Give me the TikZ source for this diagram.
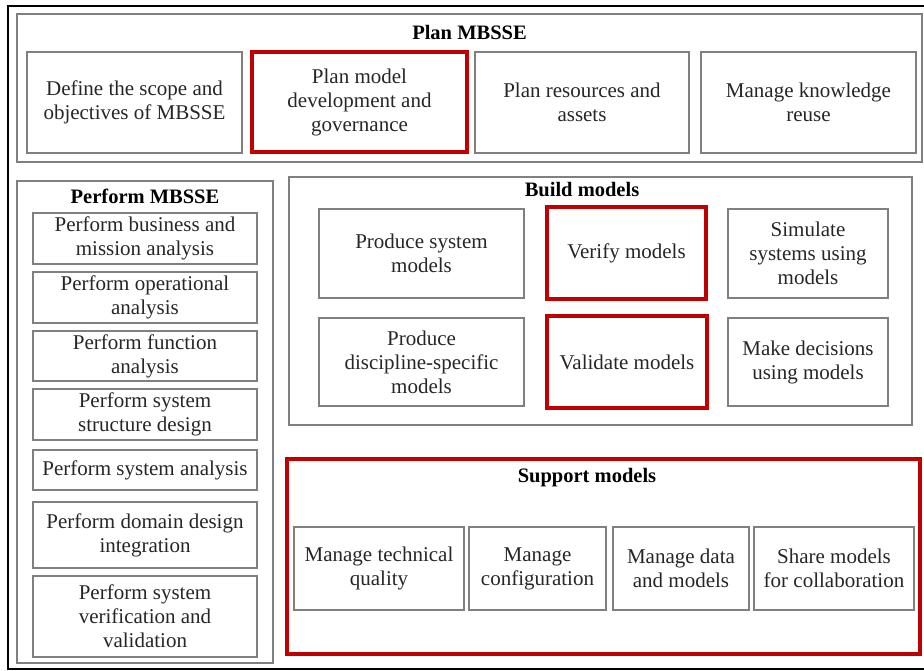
\documentclass[tikz,border=0pt]{standalone}
\usepackage{fontspec}
\setmainfont{Liberation Serif}
\usetikzlibrary{positioning}
\definecolor{boxred}{HTML}{C00000}
\tikzset{
    stepbox/.style={draw=black!50, line width=1.2pt, align=center, inner sep=0pt,
        text=black!85, font=\fontsize{21}{24}\selectfont},
    redbox/.style={stepbox, draw=boxred, line width=3.5pt},
    groupbox/.style={draw=black!50, line width=1.2pt, inner sep=0pt},
    grouptitle/.style={inner sep=0pt, font=\fontsize{20.5}{24}\selectfont\bfseries}
}
\begin{document}
\begin{tikzpicture}[x=1pt,y=-1pt]
    \useasboundingbox (0,0) rectangle (924,671);
    % outer frame
    \draw[line width=2.5pt] (8,6) rectangle (934,669);
    % Plan MBSSE
    \node[groupbox, minimum width=905pt, minimum height=148pt] (plan) at (469.5,88) {};
    \node[grouptitle] (plantitle) at ([yshift=-19pt]plan.north) {Plan MBSSE};
    \node[stepbox, minimum width=215pt, minimum height=101pt] (scope) at (134.5,102.5) {Define the scope and\\objectives of MBSSE};
    \node[redbox, minimum width=215pt, minimum height=100pt] (governance) at (359.5,102) {Plan model\\development and\\governance};
    \node[stepbox, minimum width=214pt, minimum height=101pt] (resources) at (582,102.5) {Plan resources and\\assets};
    \node[stepbox, minimum width=215pt, minimum height=101pt] (reuse) at (808.5,102.5) {Manage knowledge\\reuse};
    % Perform MBSSE
    \node[groupbox, minimum width=256pt, minimum height=482pt] (perform) at (145,422) {};
    \node[grouptitle] (performtitle) at ([yshift=-16pt]perform.north) {Perform MBSSE};
    \node[stepbox, minimum width=224pt, minimum height=51pt] (mission) at (145,238.5) {Perform business and\\mission analysis};
    \node[stepbox, minimum width=224pt, minimum height=51pt] (operational) at (145,297.5) {Perform operational\\analysis};
    \node[stepbox, minimum width=224pt, minimum height=50pt] (function) at (145,356) {Perform function\\analysis};
    \node[stepbox, minimum width=224pt, minimum height=51pt] (structure) at (145,414.5) {Perform system\\structure design};
    \node[stepbox, minimum width=224pt, minimum height=40pt] (sysanalysis) at (145,470) {Perform system analysis};
    \node[stepbox, minimum width=224pt, minimum height=66pt] (domain) at (145,535) {Perform domain design\\integration};
    \node[stepbox, minimum width=224pt, minimum height=81pt] (vandv) at (145,616.5) {Perform system\\verification and\\validation};
    % Build models
    \node[groupbox, minimum width=623pt, minimum height=248pt] (build) at (600.5,301) {};
    \node[grouptitle] (buildtitle) at (582,190) {Build models};
    \node[stepbox, minimum width=205pt, minimum height=89pt] (produce) at (421.5,253.5) {Produce system\\models};
    \node[redbox, minimum width=159pt, minimum height=92pt] (verify) at (626.5,253) {Verify models};
    \node[stepbox, minimum width=160pt, minimum height=89pt] (simulate) at (808,253.5) {Simulate\\systems using\\models};
    \node[stepbox, minimum width=205pt, minimum height=88pt] (discipline) at (421.5,362) {Produce\\discipline-specific\\models};
    \node[redbox, minimum width=160pt, minimum height=92pt] (validate) at (627,362) {Validate models};
    \node[stepbox, minimum width=160pt, minimum height=88pt] (decisions) at (808,362) {Make decisions\\using models};
    % Support models
    \node[groupbox, draw=boxred, line width=3.5pt, minimum width=633pt, minimum height=195pt] (support) at (603.5,556.5) {};
    \node[grouptitle] (supporttitle) at (587,478) {Support models};
    \node[stepbox, minimum width=170pt, minimum height=83pt] (quality) at (379,568.5) {Manage technical\\quality};
    \node[stepbox, minimum width=137pt, minimum height=83pt] (config) at (537.5,568.5) {Manage\\configuration};
    \node[stepbox, minimum width=136pt, minimum height=83pt] (data) at (681,568.5) {Manage data\\and models};
    \node[stepbox, minimum width=160pt, minimum height=83pt] (share) at (834,568.5) {Share models\\for collaboration};
\end{tikzpicture}
\end{document}
